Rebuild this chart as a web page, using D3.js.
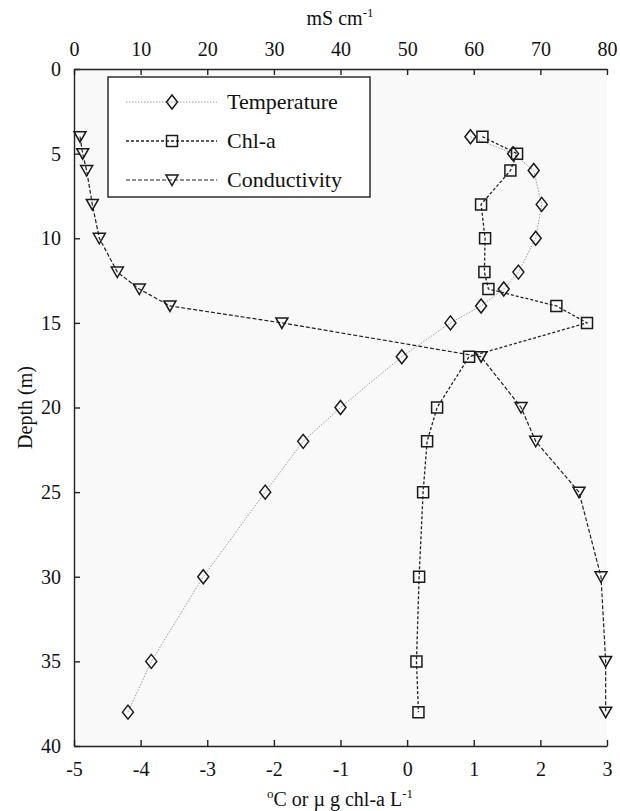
<!DOCTYPE html>
<html>
<head>
<meta charset="utf-8">
<script src="https://cdn.jsdelivr.net/npm/d3@7"></script>
<style>
  body { margin: 0; background: #fff; }
  text { font-family: "Liberation Serif", "Times New Roman", serif; fill: #111; }
</style>
</head>
<body>
<svg id="chart" width="620" height="811"></svg>
<script>
// depth profile, values
const depth = [4, 5, 6, 8, 10, 12, 13, 14, 15, 17, 20, 22, 25, 30, 35, 38];
const temperature = [0.95, 1.59, 1.9, 2.02, 1.93, 1.67, 1.45, 1.11, 0.65, -0.08, -1.0, -1.56, -2.13, -3.06, -3.84, -4.19];
const chla = [1.13, 1.65, 1.55, 1.11, 1.17, 1.16, 1.22, 2.24, 2.70, 0.93, 0.45, 0.30, 0.24, 0.18, 0.14, 0.17];
const conductivity = [0.9, 1.3, 1.9, 2.75, 3.8, 6.5, 9.8, 14.4, 31.2, 61.1, 67.1, 69.3, 75.8, 79.1, 79.8, 79.8];

const bottomTicks = [-5, -4, -3, -2, -1, 0, 1, 2, 3];
const topTicks = [0, 10, 20, 30, 40, 50, 60, 70, 80];
const depthTicks = [0, 5, 10, 15, 20, 25, 30, 35, 40];

const margin = { left: 74, right: 607, top: 69, bottom: 746 };
const serif = "'Liberation Serif', 'Times New Roman', serif";

const svg = d3.select("#chart");

const x = d3.scaleLinear().domain([-5, 3]).range([margin.left, margin.right]);
const xTop = d3.scaleLinear().domain([0, 80]).range([margin.left, margin.right]);
const y = d3.scaleLinear().domain([0, 40]).range([margin.top, margin.bottom]);

// plot background
svg.append("rect")
  .attr("x", margin.left).attr("y", margin.top)
  .attr("width", margin.right - margin.left)
  .attr("height", margin.bottom - margin.top)
  .attr("fill", "#f9f9f9");

/**
 * Style an axis: inward ticks, serif labels with plain hyphen minus.
 */
function styleAxis(g) {
  g.attr("font-family", null);
  g.select(".domain").attr("stroke", "#222").attr("stroke-width", 1.4);
  g.selectAll(".tick line").attr("stroke", "#222").attr("stroke-width", 1.4);
  g.selectAll(".tick text")
    .style("font-family", serif)
    .style("font-size", "20px")
    .attr("fill", "#111");
}

const plainFmt = d => String(d);

svg.append("g")
  .attr("transform", `translate(0,${margin.bottom})`)
  .call(d3.axisBottom(x).tickValues(bottomTicks).tickFormat(plainFmt).tickSize(-6).tickSizeOuter(0).tickPadding(16))
  .call(styleAxis);

svg.append("g")
  .attr("transform", `translate(0,${margin.top})`)
  .call(d3.axisTop(xTop).tickValues(topTicks).tickFormat(plainFmt).tickSize(-6).tickSizeOuter(0).tickPadding(13))
  .call(styleAxis);

svg.append("g")
  .attr("transform", `translate(${margin.left},0)`)
  .call(d3.axisLeft(y).tickValues(depthTicks).tickFormat(plainFmt).tickSize(-6).tickSizeOuter(0).tickPadding(13))
  .call(styleAxis);

// axis titles
svg.append("text")
  .attr("x", 340).attr("y", 25)
  .attr("text-anchor", "middle").attr("font-size", 20)
  .text("mS cm")
  .append("tspan").attr("dy", -8).attr("font-size", 13).text("-1");

const bt = svg.append("text")
  .attr("x", 340).attr("y", 806)
  .attr("text-anchor", "middle").attr("font-size", 20);
bt.append("tspan").attr("dy", -8).attr("font-size", 13).text("o");
bt.append("tspan").attr("dy", 8).text("C or µ g chl-a L");
bt.append("tspan").attr("dy", -8).attr("font-size", 13).text("-1");

svg.append("text")
  .attr("transform", `translate(32,${(margin.top + margin.bottom) / 2}) rotate(-90)`)
  .attr("text-anchor", "middle").attr("font-size", 20)
  .text("Depth (m)");

// marker shapes
const markers = {
  diamond: (cx, cy) => `M${cx},${cy - 7}L${cx + 5.5},${cy}L${cx},${cy + 7}L${cx - 5.5},${cy}Z`,
  square: (cx, cy) => `M${cx - 5.5},${cy - 5.5}h11v11h-11Z`,
  triangle: (cx, cy) => `M${cx - 6},${cy - 5}L${cx + 6},${cy - 5}L${cx},${cy + 5.5}Z`
};

const series = [
  { name: "Temperature", values: temperature, sx: x, marker: "diamond", stroke: "#9a9a9a", dash: "1.5,1.5", width: 1 },
  { name: "Chl-a", values: chla, sx: x, marker: "square", stroke: "#222", dash: "3,2", width: 1.3 },
  { name: "Conductivity", values: conductivity, sx: xTop, marker: "triangle", stroke: "#222", dash: "4,2", width: 1.2 }
];

const plot = svg.append("g");

series.forEach(s => {
  const pts = depth.map((d, i) => [s.sx(s.values[i]), y(d)]);
  plot.append("path")
    .attr("d", d3.line()(pts))
    .attr("fill", "none")
    .attr("stroke", s.stroke)
    .attr("stroke-width", s.width)
    .attr("stroke-dasharray", s.dash);
  plot.selectAll(null)
    .data(pts)
    .enter().append("path")
    .attr("d", p => markers[s.marker](p[0], p[1]))
    .attr("fill", "none")
    .attr("stroke", "#1a1a1a")
    .attr("stroke-width", 1.5);
});

// legend
const legend = svg.append("g");
legend.append("rect")
  .attr("x", 108).attr("y", 77)
  .attr("width", 262).attr("height", 120)
  .attr("fill", "#fff")
  .attr("stroke", "#222").attr("stroke-width", 1.4);

const legendRows = [102, 141, 180];
series.forEach((s, i) => {
  const ly = legendRows[i];
  legend.append("line")
    .attr("x1", 126).attr("x2", 217).attr("y1", ly).attr("y2", ly)
    .attr("stroke", s.stroke).attr("stroke-width", s.width)
    .attr("stroke-dasharray", s.dash);
  legend.append("path")
    .attr("d", markers[s.marker](172, ly))
    .attr("fill", "none").attr("stroke", "#1a1a1a").attr("stroke-width", 1.5);
  legend.append("text")
    .attr("x", 227).attr("y", ly + 7)
    .attr("font-size", 22)
    .text(s.name);
});
</script>
</body>
</html>
